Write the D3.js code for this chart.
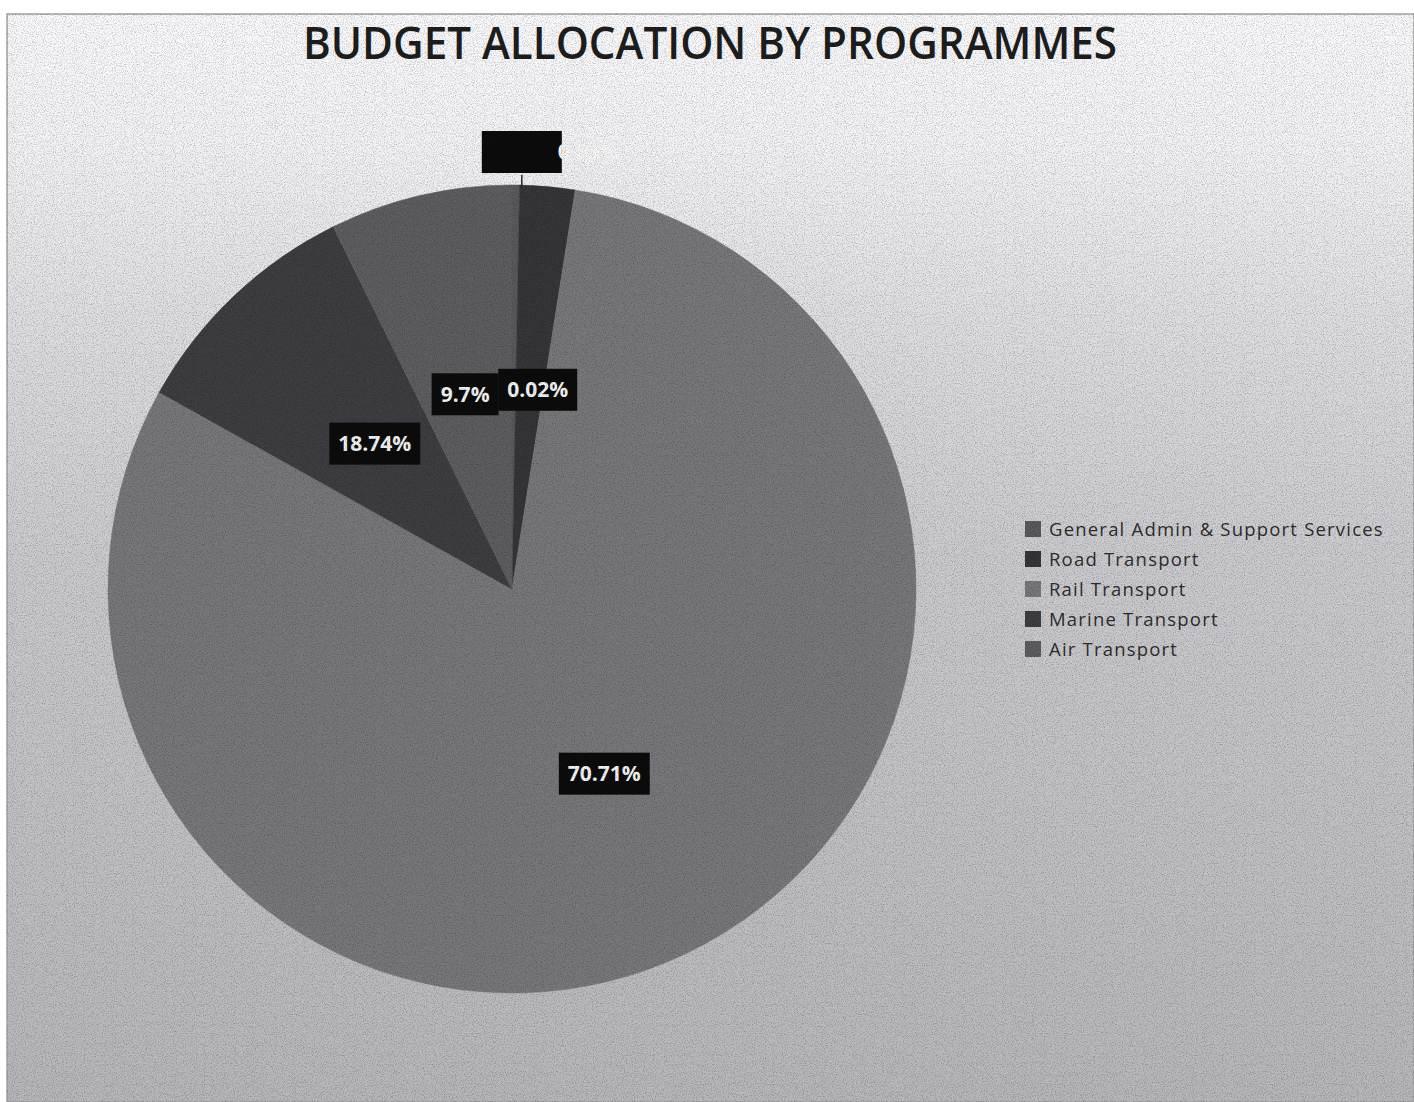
<!DOCTYPE html>
<html>
<head>
<meta charset="utf-8">
<script src="https://cdn.jsdelivr.net/npm/d3@7"></script>
<style>
    body { margin: 0; background: #ffffff; }
    svg { display: block; }
</style>
</head>
<body>
<div id="chart"></div>
<script>
// Budget allocation pie (scanned Excel chart)

var programmes = [
    "General Admin & Support Services",
    "Road Transport",
    "Rail Transport",
    "Marine Transport",
    "Air Transport"
];
// share of the circle as drawn in the picture (%)
var shares = [0.3, 2.2, 80.6, 9.6, 7.3];
// data labels as printed on the chart
var labelText = ["0.83%", "0.02%", "70.71%", "18.74%", "9.7%"];
var colors = ["#5a5a5e", "#36363a", "#78787c", "#3e3e42", "#5e5e62"];

var width = 1414, height = 1102;
var cx = 512, cy = 589, radius = 404;

var svg = d3.select("#chart")
    .append("svg")
    .attr("width", width)
    .attr("height", height);

var defs = svg.append("defs");

// paper tone, lighter at the top like the scan
var grad = defs.append("linearGradient")
    .attr("id", "paper")
    .attr("x1", 0).attr("y1", 0)
    .attr("x2", 0).attr("y2", 1);
[["0%", "#fafafc"], ["12%", "#f3f3f5"], ["28%", "#dfdfe3"],
 ["50%", "#cbcbcf"], ["75%", "#c1c1c5"], ["100%", "#b7b7bb"]].forEach(s => {
    grad.append("stop").attr("offset", s[0]).attr("stop-color", s[1]);
});

// grain
var grain = defs.append("filter")
    .attr("id", "grain")
    .attr("x", 0).attr("y", 0).attr("width", "100%").attr("height", "100%");
grain.append("feTurbulence")
    .attr("type", "fractalNoise")
    .attr("baseFrequency", 0.9)
    .attr("numOctaves", 2)
    .attr("seed", 3)
    .attr("result", "noise");
grain.append("feColorMatrix")
    .attr("in", "noise")
    .attr("type", "matrix")
    .attr("values", "0 0 0 0 0  0 0 0 0 0  0 0 0 0 0  0 0 0 -1.3 0.72");

svg.append("rect")
    .attr("x", 7).attr("y", 14)
    .attr("width", width - 7).attr("height", height - 14)
    .attr("fill", "url(#paper)")
    .attr("stroke", "#a0a0a0")
    .attr("stroke-width", 1.5);

// title
svg.append("text")
    .attr("x", 710)
    .attr("y", 59)
    .attr("text-anchor", "middle")
    .attr("textLength", 814)
    .attr("lengthAdjust", "spacingAndGlyphs")
    .style("font-family", "'Open Sans', sans-serif")
    .style("font-weight", 600)
    .style("font-size", "45px")
    .style("fill", "#1e1e1e")
    .text("BUDGET ALLOCATION BY PROGRAMMES");

// pie
var pie = d3.pie().sort(null).value(d => d);
var arcs = pie(shares);
var arc = d3.arc().innerRadius(0).outerRadius(radius);

var g = svg.append("g")
    .attr("transform", `translate(${cx},${cy})`);

g.selectAll("path.slice")
    .data(arcs)
    .enter()
    .append("path")
    .attr("class", "slice")
    .attr("d", arc)
    .attr("fill", (d, i) => colors[i])
    .attr("stroke", (d, i) => colors[i])
    .attr("stroke-width", 0.5);

// data labels: black boxes with white text
function addLabel(x, y, txt, fixedW){
    var lg = g.append("g").attr("transform", `translate(${x},${y})`);
    var rect = lg.append("rect").attr("fill", "#0c0c0c");
    var t = lg.append("text")
        .attr("text-anchor", "middle")
        .attr("dy", "0.35em")
        .style("font-family", "'Open Sans', sans-serif")
        .style("font-weight", 700)
        .style("font-size", "21px")
        .style("fill", "#f4f4f4")
        .text(txt);
    var w = fixedW || t.node().getComputedTextLength() + 18;
    rect.attr("x", -w / 2).attr("y", -21).attr("width", w).attr("height", 42);
    return {group: lg, text: t, w: w};
}

// slice 0 is too thin: label pushed outside with a leader line
var a0 = (arcs[0].startAngle + arcs[0].endAngle) / 2;
var outX = Math.sin(a0) * radius + 6;
var outBottom = -radius - 10;
g.append("line")
    .attr("x1", outX).attr("y1", -radius + 2)
    .attr("x2", outX).attr("y2", outBottom)
    .attr("stroke", "#2a2a2a")
    .attr("stroke-width", 1.5);
var hidden = addLabel(outX, outBottom - 23, "", 80);
// the printed value runs off the box onto the white paper
hidden.group.append("text")
    .attr("x", 36)
    .attr("dy", "0.35em")
    .style("font-family", "'Open Sans', sans-serif")
    .style("font-weight", 700)
    .style("font-size", "21px")
    .style("fill", "#f8f8f8")
    .text(labelText[0]);

// inside labels at the slice centroids (small nudges where boxes collide)
var nudge = [null, [8, 2], [4, 3], [2, 1], [-1, 2]];
arcs.forEach((d, i) => {
    if (i === 0) return;
    var c = arc.centroid(d);
    addLabel(c[0] + nudge[i][0], c[1] + nudge[i][1], labelText[i]);
});

// legend
var legend = svg.append("g")
    .attr("transform", "translate(1025,529)");

var items = legend.selectAll("g.item")
    .data(programmes)
    .enter()
    .append("g")
    .attr("class", "item")
    .attr("transform", (d, i) => `translate(0,${i * 30})`);

items.append("rect")
    .attr("x", 0).attr("y", -8)
    .attr("width", 16).attr("height", 16)
    .attr("fill", (d, i) => colors[i]);

items.append("text")
    .attr("x", 24)
    .attr("dy", "0.36em")
    .style("font-family", "'Open Sans', sans-serif")
    .style("font-size", "18.5px")
    .style("letter-spacing", "1.2px")
    .style("fill", "#2e2e2e")
    .text(d => d);

// scan grain over everything
svg.append("rect")
    .attr("x", 7).attr("y", 14)
    .attr("width", width - 7).attr("height", height - 14)
    .attr("filter", "url(#grain)")
    .attr("opacity", 0.45)
    .style("pointer-events", "none");
</script>
</body>
</html>
